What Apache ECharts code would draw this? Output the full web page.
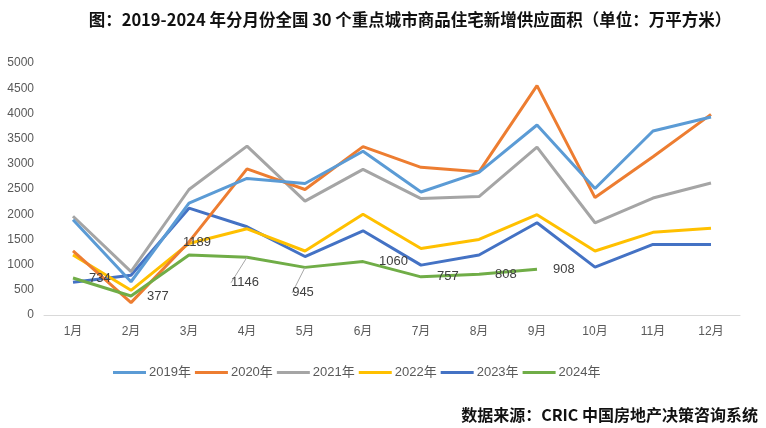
<!DOCTYPE html>
<html><head><meta charset="utf-8">
<script src="https://cdn.jsdelivr.net/npm/echarts@6/dist/echarts.min.js"></script>
<style>html,body{margin:0;padding:0;background:#fff}#c{width:766px;height:428px}</style>
</head><body><div id="c"></div>
<script>
const months = ['1月','2月','3月','4月','5月','6月','7月','8月','9月','10月','11月','12月'];
const yTicks = [0,500,1000,1500,2000,2500,3000,3500,4000,4500,5000];
const s2019 = [1890, 660, 2220, 2710, 2610, 3250, 2440, 2830, 3770, 2510, 3650, 3930];
const s2020 = [1270, 245, 1450, 2900, 2490, 3340, 2930, 2840, 4550, 2330, 3140, 3980];
const s2021 = [1960, 860, 2490, 3350, 2260, 2890, 2310, 2350, 3330, 1830, 2320, 2620];
const s2022 = [1190, 490, 1420, 1710, 1270, 2000, 1320, 1500, 1990, 1270, 1640, 1720];
const s2023 = [650, 790, 2120, 1750, 1160, 1670, 990, 1190, 1830, 950, 1400, 1400];
const s2024 = [734, 377, 1189, 1146, 945, 1060, 757, 808, 908];
const names = ['2019年','2020年','2021年','2022年','2023年','2024年'];
const colors = ['#5B9BD5','#ED7D31','#A5A5A5','#FFC000','#4472C4','#70AD47'];

const chart = echarts.init(document.getElementById('c'));
const lab = {color:'#404040', fontSize:13, fontFamily:'Liberation Sans, Noto Sans CJK SC'};
const labelCfg = [
  {position:'right', distance:16},
  {position:'right', distance:16},
  {position:'top', distance:6},
  {position:'bottom', distance:4},
  {position:'bottom', distance:4},
  {position:'right', distance:16},
  {position:'right', distance:16},
  {position:'right', distance:16},
  {position:'right', distance:16}
];
const leader = [false,false,false,true,true,false,false,false,false];
const d2024 = s2024.map((v,i)=>({
  value:v,
  label:Object.assign({show:true}, lab, labelCfg[i]),
  labelLine:{show:leader[i], lineStyle:{color:'#A6A6A6', width:1}}
}));
const all = [s2019,s2020,s2021,s2022,s2023,d2024];
const series = all.map((d,i)=>({
  name:names[i], type:'line', data:d, symbol:'none', z: 2 + (5-i),
  lineStyle:{width:3, color:colors[i]}, itemStyle:{color:colors[i]},
  emphasis:{disabled:true}
}));
series[5].z = 10;
series[5].symbol = 'circle';
series[5].symbolSize = 0;
series[5].showSymbol = true;
series[5].labelLayout = function(p){
  if (p.dataIndex === 2) return {dx: 8};
  if (p.dataIndex === 3 || p.dataIndex === 4) return {dy: 15, dx: -2};
  return {};
};

chart.setOption({
  animation:false,
  color: colors,
  title:[
    {text:'图：2019-2024 年分月份全国 30 个重点城市商品住宅新增供应面积（单位：万平方米）',
     left:405, top:6, textAlign:'center',
     textStyle:{fontSize:16.5, fontWeight:'bold', color:'#111', fontFamily:'Noto Sans CJK SC'}},
    {text:'数据来源：CRIC 中国房地产决策咨询系统', right:3, top:402,
     textStyle:{fontSize:16, fontWeight:'bold', color:'#111', fontFamily:'Noto Sans CJK SC'}}
  ],
  legend:{
    data:names, left:108, top:361, itemWidth:33, itemHeight:3, itemGap:4, icon:'rect',
    textStyle:{fontSize:13, color:'#595959', padding:[0,0,0,-2], fontFamily:'Liberation Sans, Noto Sans CJK SC'}
  },
  grid:{left:44, right:26, top:63, bottom:113},
  xAxis:{
    type:'category', data:months, boundaryGap:true,
    axisLine:{lineStyle:{color:'#D9D9D9', width:1}}, axisTick:{show:false},
    axisLabel:{color:'#595959', fontSize:12, margin:11, fontFamily:'Liberation Sans, Noto Sans CJK SC'}
  },
  yAxis:{
    type:'value', min:yTicks[0], max:yTicks[yTicks.length-1], interval:500,
    splitLine:{show:false}, axisLine:{show:false}, axisTick:{show:false},
    axisLabel:{color:'#595959', fontSize:12, margin:10, fontFamily:'Liberation Sans', formatter:v=>String(v)}
  },
  series: series
});
</script></body></html>
